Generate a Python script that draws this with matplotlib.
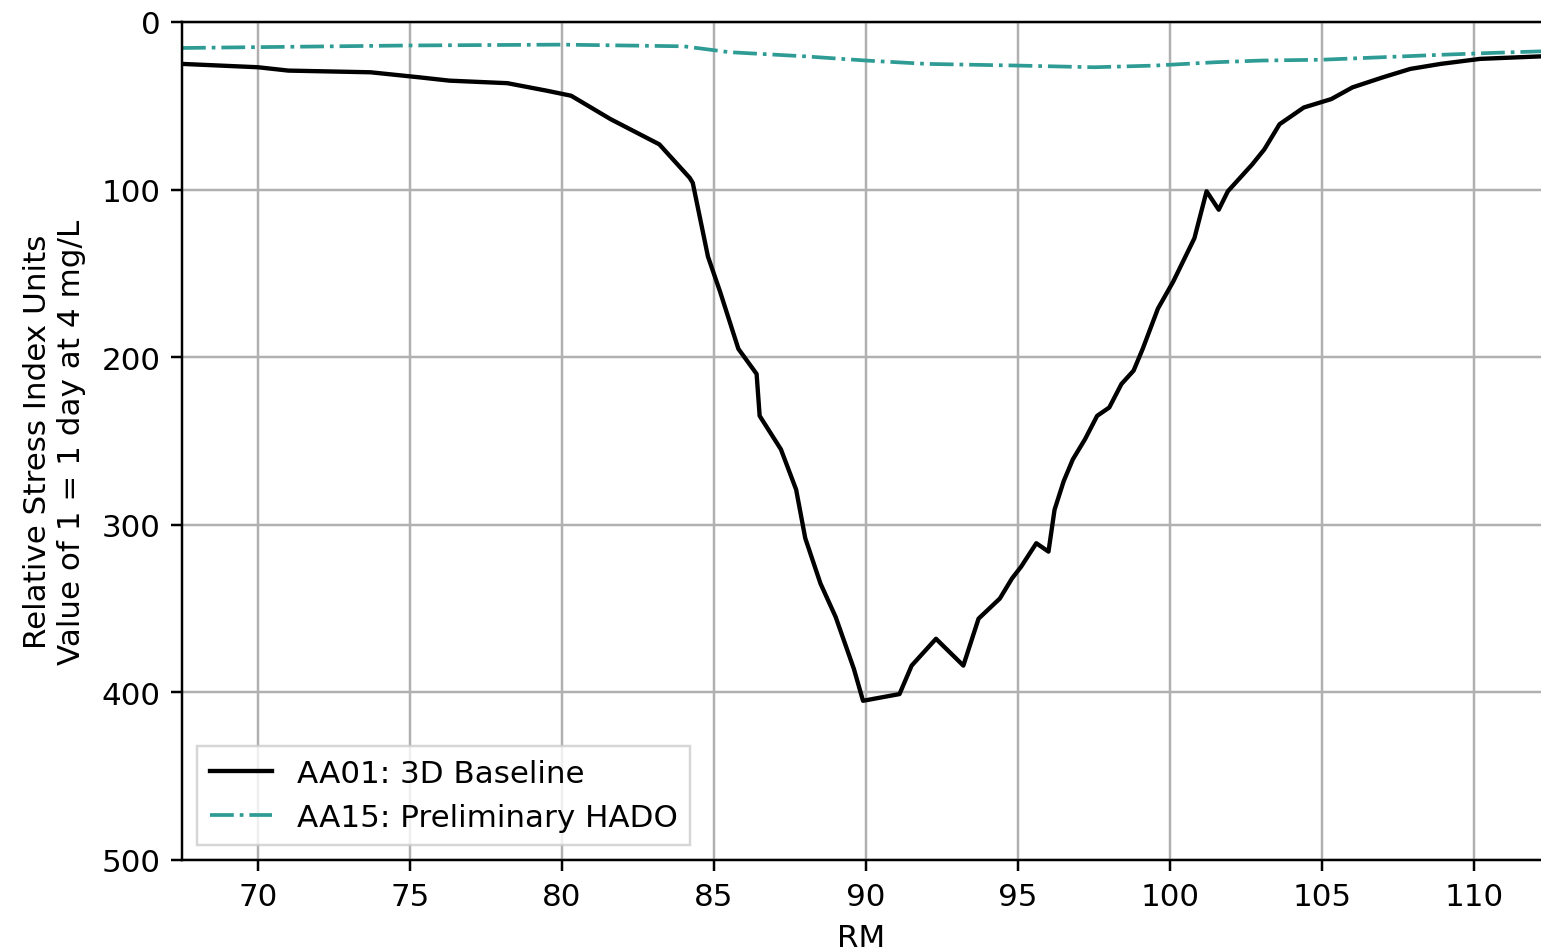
import matplotlib
matplotlib.use("Agg")
import matplotlib.pyplot as plt

# AA01: 3D Baseline
rm_aa01 = [67.5, 70.0, 71.0, 73.7, 75.3, 76.3, 78.2, 79.5, 80.3, 81.6, 83.2, 84.2,
           84.3, 84.8, 85.2, 85.8, 86.4, 86.5, 87.2, 87.7, 88.0, 88.5, 89.0, 89.6,
           89.9, 91.1, 91.5, 92.3, 93.2, 93.7, 94.4, 94.8, 95.1, 95.6, 96.0, 96.2,
           96.5, 96.8, 97.2, 97.6, 98.0, 98.4, 98.8, 99.1, 99.6, 100.1, 100.8, 101.2,
           101.6, 101.9, 102.7, 103.1, 103.6, 104.4, 105.3, 106.0, 107.0, 107.9,
           108.9, 110.2, 112.2]
val_aa01 = [25, 27, 29, 30, 33, 35, 36.5, 41, 44, 58, 73, 93,
            96, 140, 161, 195, 210, 235, 255, 279, 308, 335, 355, 386,
            405, 401, 384, 368, 384, 356, 344, 332, 325, 311, 316, 291,
            274, 261, 249, 235, 230, 216, 208, 195, 171, 155, 129, 101,
            112, 101, 85, 76, 61, 51, 46, 39, 33, 28,
            25, 22, 20.5]

# AA15: Preliminary HADO
rm_aa15 = [67.5, 70, 75, 80, 84, 85.5, 88, 90, 92, 95, 97.5, 99.5, 101.5, 103,
           105, 107, 109, 110.5, 112.2]
val_aa15 = [15.5, 15, 14, 13.5, 14.5, 18, 20.5, 23, 25, 26, 27, 26, 24, 23,
            22.5, 21, 19.5, 18.5, 17.5]

x_ticks = [70, 75, 80, 85, 90, 95, 100, 105, 110]
y_ticks = [0, 100, 200, 300, 400, 500]

S = 2.23
plt.rcParams.update({
    "font.family": "DejaVu Sans",
    "font.size": 10 * S,
})

W, H = 1541, 953
fig = plt.figure(figsize=(W / 100, H / 100), dpi=100)
ax = fig.add_axes([182 / W, 1 - 861 / H, (W - 182) / W, (861 - 23) / H])

ax.plot(rm_aa01, val_aa01, color="black", lw=1.4 * S, label="AA01: 3D Baseline")
ax.plot(rm_aa15, val_aa15, color="#2e9c94", lw=1.2 * S, ls="-.",
        label="AA15: Preliminary HADO")

ax.set_xlim(67.5, 112.2)
ax.set_ylim(500, 0)
ax.set_xticks(x_ticks)
ax.set_yticks(y_ticks)
ax.grid(True, color="#b0b0b0", lw=0.8 * S)
ax.set_axisbelow(True)
for s in ax.spines.values():
    s.set_linewidth(0.8 * S)
ax.spines["right"].set_visible(False)
ax.tick_params(width=0.8 * S, length=3.5 * S, pad=3.5 * S)

ax.set_xlabel("RM", labelpad=9)
ax.set_ylabel("Relative Stress Index Units\nValue of 1 = 1 day at 4 mg/L", labelpad=11)

leg = ax.legend(loc="lower left", frameon=True, fancybox=False,
                edgecolor="#cccccc", borderpad=0.4, handlelength=2.0)
leg.get_frame().set_linewidth(0.8 * S)

fig.savefig("out.png", dpi=100)
